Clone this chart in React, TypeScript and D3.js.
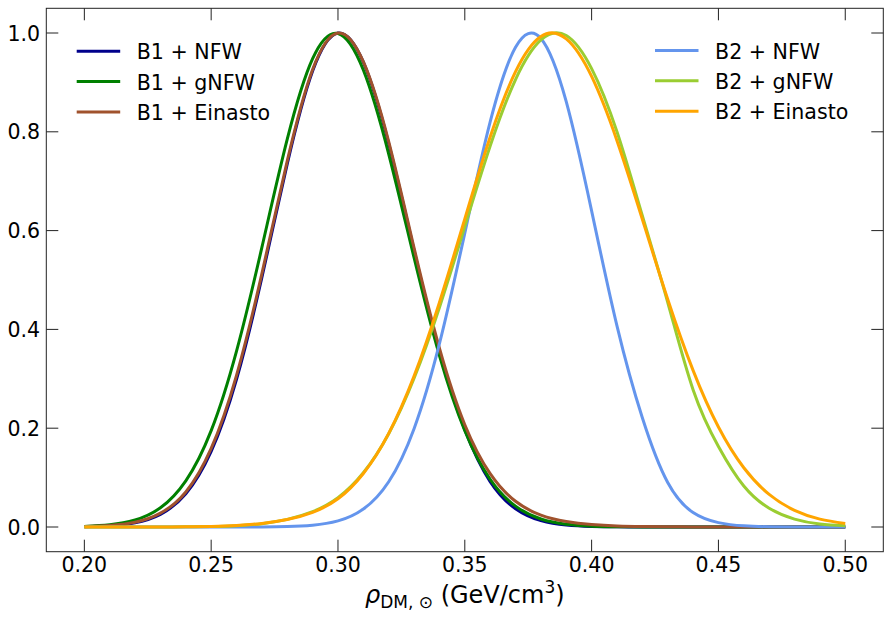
import * as d3 from "d3";

const rhoGrid = [
  0.2, 0.21, 0.22, 0.23, 0.24, 0.25, 0.26, 0.27, 0.28, 0.29, 0.3, 0.31, 0.32, 0.33, 0.34, 0.35,
  0.36, 0.37, 0.38, 0.39, 0.4, 0.41, 0.42, 0.43, 0.44, 0.45, 0.46, 0.47, 0.48, 0.49, 0.5,
];

// normalised posteriors
const b1Nfw = [
  0.0006, 0.0024, 0.0084, 0.0256, 0.0673, 0.153, 0.299, 0.505, 0.735, 0.923, 1.0, 0.941, 0.776,
  0.56, 0.355, 0.197, 0.092, 0.037, 0.013, 0.004, 0.0012, 0.0003, 0.0001, 0, 0, 0, 0, 0, 0, 0, 0,
];
const b1Gnfw = [
  0.0012, 0.0045, 0.0141, 0.0389, 0.0934, 0.195, 0.356, 0.566, 0.785, 0.948, 0.999, 0.925, 0.755,
  0.545, 0.347, 0.195, 0.0965, 0.0422, 0.0163, 0.0056, 0.0017, 0.0005, 0.0001, 0, 0, 0, 0, 0, 0, 0, 0,
];
const b1Einasto = [
  0.0008, 0.003, 0.0095, 0.028, 0.071, 0.159, 0.307, 0.513, 0.741, 0.926, 1.0, 0.942, 0.78,
  0.565, 0.362, 0.207, 0.108, 0.052, 0.024, 0.011, 0.005, 0.0022, 0.001, 0.0004, 0.0002, 0.0001,
  0, 0, 0, 0, 0,
];
const b2Nfw = [
  0, 0, 0, 0, 0, 0, 0, 0.0002, 0.0009, 0.0036, 0.0123, 0.0363, 0.0916, 0.199, 0.371, 0.595, 0.82,
  0.971, 0.989, 0.861, 0.64, 0.407, 0.221, 0.09, 0.0292, 0.0088, 0.0023, 0.0005, 0.0001, 0, 0,
];
const b2Gnfw = [
  0, 0, 0, 0.0001, 0.0003, 0.0009, 0.0025, 0.0068, 0.0155, 0.031, 0.0593, 0.1097, 0.1888, 0.301,
  0.4445, 0.6082, 0.7711, 0.9058, 0.9859, 0.995, 0.928, 0.8, 0.63, 0.455, 0.278, 0.163, 0.083,
  0.038, 0.016, 0.006, 0.0025,
];
const b2Einasto = [
  0, 0, 0, 0.0001, 0.0004, 0.0012, 0.003, 0.0072, 0.015, 0.0295, 0.0572, 0.1084, 0.1895, 0.3055,
  0.4546, 0.6237, 0.7895, 0.9218, 0.993, 0.988, 0.912, 0.782, 0.623, 0.461, 0.317, 0.2023, 0.1199,
  0.066, 0.0338, 0.016, 0.0071,
];

const seriesNames = ["B1 + NFW", "B1 + gNFW", "B1 + Einasto", "B2 + NFW", "B2 + gNFW", "B2 + Einasto"];
const seriesColors = ["#00008b", "#008000", "#a0522d", "#6495ed", "#9acd32", "#ffa500"];
const seriesValues = [b1Nfw, b1Gnfw, b1Einasto, b2Nfw, b2Gnfw, b2Einasto];

const xTicks = [0.2, 0.25, 0.3, 0.35, 0.4, 0.45, 0.5];
const yTicks = [0, 0.2, 0.4, 0.6, 0.8, 1.0];

const W = 892;
const H = 620;
const left = 46.3;
const right = 883.3;
const top = 8.3;
const bottom = 551.7;
const font = "DejaVu Sans, sans-serif";

function App() {
  const x = d3.scaleLinear().domain([0.185, 0.515]).range([left, right]);
  const y = d3.scaleLinear().domain([-0.05, 1.05]).range([bottom, top]);

  const line = d3
    .line<number>()
    .x((_, i) => x(rhoGrid[i]))
    .y((d) => y(d))
    .curve(d3.curveNatural);

  const tickLen = 12;
  const axisColor = "#222";

  const legendRows = [51.3, 81.5, 112];

  return (
    <svg
      width={W}
      height={H}
      style={{ position: "absolute", left: 0, top: 0, background: "#fff" }}
      fontFamily={font}
    >
      {seriesValues.map((vals, i) => (
        <path
          key={seriesNames[i]}
          d={line(vals) || ""}
          fill="none"
          stroke={seriesColors[i]}
          strokeWidth={3}
          strokeLinejoin="round"
        />
      ))}

      {/* frame */}
      <rect
        x={left}
        y={top}
        width={right - left}
        height={bottom - top}
        fill="none"
        stroke={axisColor}
        strokeWidth={1}
      />

      {/* x ticks, inward on bottom and top */}
      {xTicks.map((t) => (
        <g key={`x-${t}`}>
          <line x1={x(t)} x2={x(t)} y1={bottom} y2={bottom - tickLen} stroke={axisColor} />
          <line x1={x(t)} x2={x(t)} y1={top} y2={top + tickLen} stroke={axisColor} />
          <text x={x(t)} y={571.7} fontSize={20.5} textAnchor="middle" fill="#000">
            {d3.format(".2f")(t)}
          </text>
        </g>
      ))}

      {/* y ticks, inward on left and right */}
      {yTicks.map((t) => (
        <g key={`y-${t}`}>
          <line x1={left} x2={left + tickLen} y1={y(t)} y2={y(t)} stroke={axisColor} />
          <line x1={right} x2={right - tickLen} y1={y(t)} y2={y(t)} stroke={axisColor} />
          <text x={40} y={y(t) + 7.5} fontSize={20.5} textAnchor="end" fill="#000">
            {d3.format(".1f")(t)}
          </text>
        </g>
      ))}

      {/* x label */}
      <text x={(left + right) / 2} y={603.3} fontSize={24} textAnchor="middle" fill="#000">
        <tspan fontStyle="italic">ρ</tspan>
        <tspan fontSize={17} dy={5}>DM, ⊙</tspan>
        <tspan dy={-5}> (GeV/cm</tspan>
        <tspan fontSize={17} dy={-10}>3</tspan>
        <tspan dy={10}>)</tspan>
      </text>

      {/* legends */}
      {seriesNames.map((name, i) => {
        const col = i < 3 ? 0 : 1;
        const row = i % 3;
        const lx = col === 0 ? 76.7 : 655;
        const ly = legendRows[row] - (col === 1 ? 0.8 : 0);
        return (
          <g key={`leg-${name}`}>
            <line x1={lx} x2={lx + 43.5} y1={ly} y2={ly} stroke={seriesColors[i]} strokeWidth={3} />
            <text x={lx + 60} y={ly + 8} fontSize={20.6} fill="#000">
              {name}
            </text>
          </g>
        );
      })}
    </svg>
  );
}

export default App;
